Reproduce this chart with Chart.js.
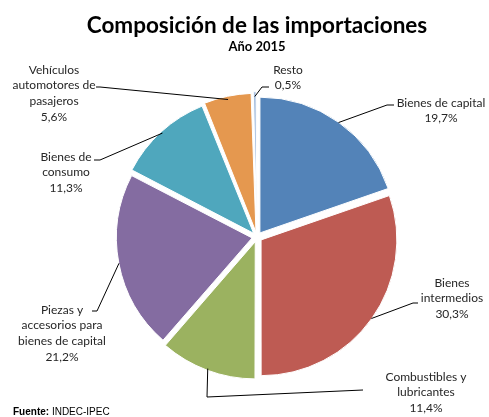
<!DOCTYPE html>
<html>
<head>
<meta charset="utf-8">
<script src="https://cdn.jsdelivr.net/npm/chart.js@4.4.1/dist/chart.umd.min.js"></script>
<style>
  html, body { margin: 0; padding: 0; background: #fff; }
  #wrap { width: 489px; height: 417px; position: relative; }
</style>
</head>
<body>
<div id="wrap"><canvas id="pie" width="489" height="417"></canvas></div>
<script>
// datos
const categorias = [
    'Bienes de capital',
    'Bienes intermedios',
    'Combustibles y lubricantes',
    'Piezas y accesorios para bienes de capital',
    'Bienes de consumo',
    'Vehículos automotores de pasajeros',
    'Resto'
];
const porcentajes = [19.7, 30.3, 11.4, 21.2, 11.3, 5.6, 0.5];
const colores = ['#5383B8', '#BE5B53', '#9BB260', '#846CA1', '#4FA7BD', '#E5984F', '#A9C1E0'];

// lineas de texto de cada etiqueta (mismo orden que categorias)
const etiquetas = [
    ['Bienes de capital'],
    ['Bienes', 'intermedios'],
    ['Combustibles y', 'lubricantes'],
    ['Piezas y', 'accesorios para', 'bienes de capital'],
    ['Bienes de', 'consumo'],
    ['Vehículos', 'automotores de', 'pasajeros'],
    ['Resto']
];

// ubicacion de las etiquetas y quiebres de las lineas guia
const posEtiquetas = [
    { x: 441, y: 103, line: [[387, 105], [394, 105]] },
    { x: 452, y: 283, line: [[413, 303], [418, 303]] },
    { x: 426, y: 377, line: [[207, 397], [363, 390]] },
    { x: 62, y: 310, line: [[97, 311], [92, 311]] },
    { x: 66, y: 157, line: [[100, 160], [94, 160]] },
    { x: 54, y: 70, line: [[100, 87], [96, 87]] },
    { x: 288, y: 70, line: [[262, 87], [269, 87]] }
];

const fmt = v => v.toFixed(1).replace('.', ',') + '%';
const FONT = 'Lato, "Open Sans", sans-serif';

const textos = {
    id: 'textos',
    afterDraw(chart) {
        const ctx = chart.ctx;
        const arcs = chart.getDatasetMeta(0).data;
        ctx.save();
        ctx.textAlign = 'center';
        ctx.textBaseline = 'middle';
        ctx.fillStyle = '#000';
        ctx.font = 'bold 22.5px ' + FONT;
        ctx.fillText('Composición de las importaciones', 257, 26);
        ctx.font = 'bold 13px ' + FONT;
        ctx.fillText('Año 2015', 257, 47);

        // lineas guia (chart.js v4 desplaza el sector offset/4)
        ctx.strokeStyle = '#000';
        ctx.lineWidth = 1;
        arcs.forEach((arc, i) => {
            const p = arc.getProps(['x', 'y', 'startAngle', 'endAngle', 'outerRadius']);
            const mid = (p.startAngle + p.endAngle) / 2;
            const r = p.outerRadius + arc.options.offset / 4;
            ctx.beginPath();
            ctx.moveTo(p.x + Math.cos(mid) * r, p.y + Math.sin(mid) * r);
            posEtiquetas[i].line.forEach(pt => ctx.lineTo(pt[0], pt[1]));
            ctx.stroke();
        });

        // etiquetas
        ctx.fillStyle = '#262626';
        ctx.font = '12px ' + FONT;
        etiquetas.forEach((lineas, i) => {
            const pos = posEtiquetas[i];
            const todas = lineas.concat([fmt(porcentajes[i])]);
            todas.forEach((t, k) => ctx.fillText(t, pos.x, pos.y + k * 15.6));
        });

        // fuente
        ctx.textAlign = 'left';
        ctx.fillStyle = '#000';
        ctx.font = 'bold 10px "Liberation Sans", Arial, sans-serif';
        ctx.fillText('Fuente:', 13, 412);
        const w = ctx.measureText('Fuente: ').width;
        ctx.font = '10px "Liberation Sans", Arial, sans-serif';
        ctx.fillText('INDEC-IPEC', 13 + w, 412);
        ctx.restore();
    }
};

new Chart(document.getElementById('pie'), {
    type: 'pie',
    data: {
        labels: categorias,
        datasets: [{
            data: porcentajes,
            backgroundColor: colores,
            borderColor: '#fff',
            borderWidth: 1,
            offset: 20
        }]
    },
    options: {
        responsive: false,
        animation: false,
        layout: { padding: { left: 111, right: 86, top: 91, bottom: 34 } },
        plugins: {
            legend: { display: false },
            tooltip: { enabled: false }
        }
    },
    plugins: [textos]
});
</script>
</body>
</html>
